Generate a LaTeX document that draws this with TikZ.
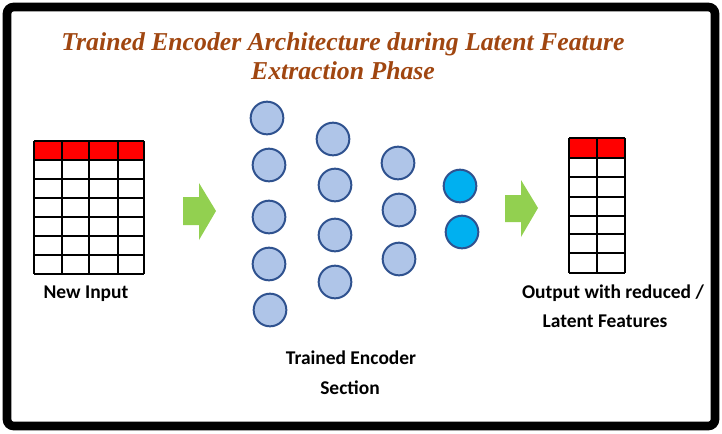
\documentclass[tikz,border=0pt]{standalone}
\usepackage{fontspec}
\setsansfont{Carlito}
\newfontfamily\titlefont{Liberation Serif}
\definecolor{titlec}{RGB}{160,70,16}
\definecolor{neuron}{RGB}{175,197,232}
\definecolor{neuronline}{RGB}{47,82,143}
\definecolor{latent}{RGB}{0,176,240}
\definecolor{arrowgreen}{RGB}{146,208,80}
\definecolor{hdrred}{RGB}{255,0,0}
\begin{document}
\begin{tikzpicture}[x=0.75pt,y=-0.75pt,
  neu/.style={circle,draw=neuronline,line width=1.5pt,fill=neuron,minimum size=24.5pt,inner sep=0pt},
  lat/.style={neu,fill=latent},
  lbl/.style={font=\sffamily\bfseries\fontsize{14.6}{16}\selectfont,align=center,inner sep=0pt},
  cellline/.style={draw=black,line width=0.9pt},
  garrow/.style={fill=arrowgreen,draw=none}]
\useasboundingbox (0,0) rectangle (722,433);
% frame
\draw[line width=6.5pt,rounded corners=5pt] (7,7) rectangle (715,426);
% title
\node[font=\titlefont\bfseries\itshape\fontsize{19.3}{22}\selectfont,text=titlec,align=center] (title) at (343,56)
  {Trained Encoder Architecture during Latent Feature\\Extraction Phase};
% input table
\fill[hdrred] (34,141) rectangle (144,160);
\foreach \y in {141,160,179,198,217,236,255,274} \draw[cellline] (34,\y) -- (144,\y);
\foreach \x in {34,62,89,118,144} \draw[cellline] (\x,141) -- (\x,274);
\node[lbl] (newin) at (86,294) {New Input};
% arrow 1
\fill[garrow] (183,197) -- (199,197) -- (199,183) -- (216,211) -- (199,240) -- (199,225) -- (183,225) -- cycle;
% neurons
\node[neu] (a1) at (267,118) {};
\node[neu] (a2) at (269,165) {};
\node[neu] (a3) at (269,217) {};
\node[neu] (a4) at (269,264) {};
\node[neu] (a5) at (270,310) {};
\node[neu] (b1) at (333,139) {};
\node[neu] (b2) at (335,185) {};
\node[neu] (b3) at (335,235) {};
\node[neu] (b4) at (335,282) {};
\node[neu] (c1) at (398,163) {};
\node[neu] (c2) at (399,210) {};
\node[neu] (c3) at (399,259) {};
\node[lat] (d1) at (460,186) {};
\node[lat] (d2) at (462,232) {};
\node[lbl] (enc) at (351,358) {Trained Encoder};
\node[lbl] (sec) at (350,388) {Section};
% arrow 2
\fill[garrow] (505,195) -- (521,195) -- (521,180) -- (538,208) -- (521,237) -- (521,222) -- (505,222) -- cycle;
% output table
\fill[hdrred] (569,138) rectangle (625,158);
\foreach \y in {138,158,177,197,216,234,253,273} \draw[cellline] (569,\y) -- (625,\y);
\foreach \x in {569,597,625} \draw[cellline] (\x,138) -- (\x,273);
\node[lbl] (out1) at (613,293) {Output with reduced /};
\node[lbl] (out2) at (605,321) {Latent Features};
\end{tikzpicture}
\end{document}
